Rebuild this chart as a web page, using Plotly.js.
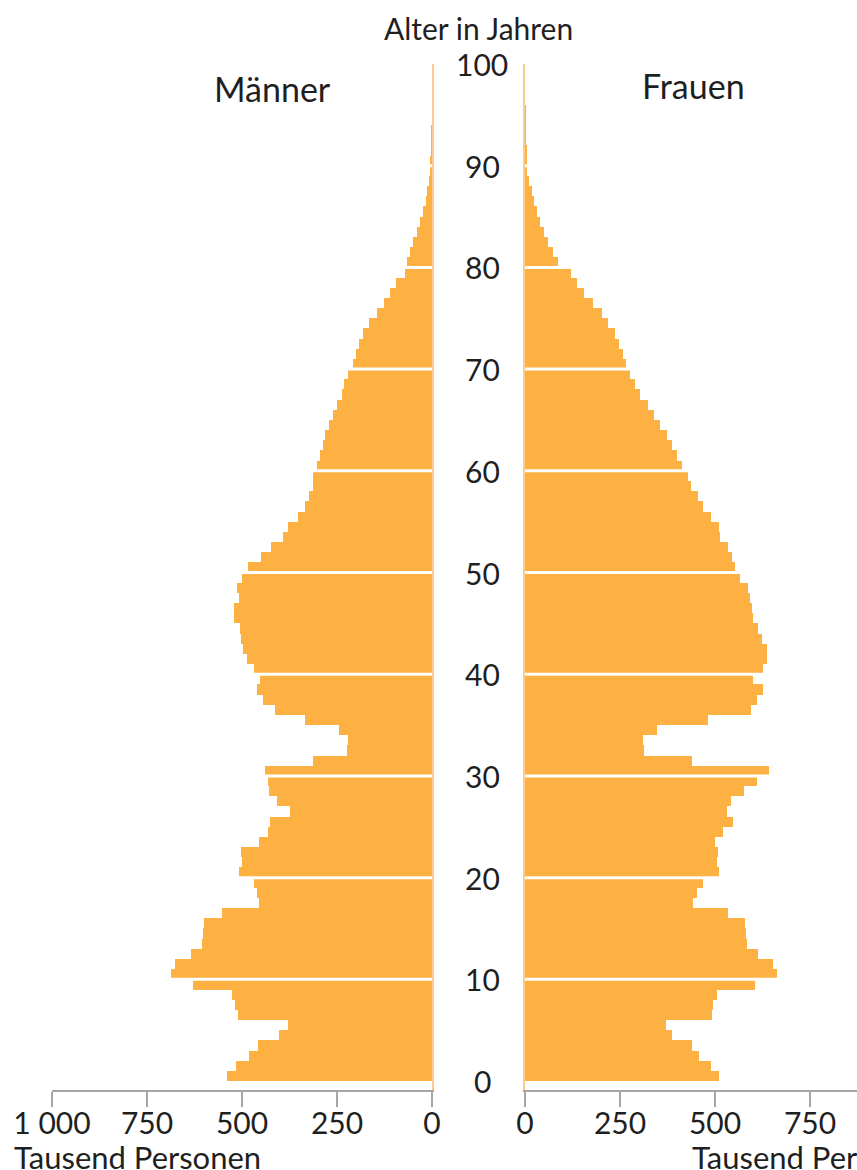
<!DOCTYPE html>
<html>
<head>
<meta charset="utf-8">
<script src="https://cdn.plot.ly/plotly-3.0.1.min.js"></script>
<style>
  html, body { margin: 0; padding: 0; background: #ffffff; }
  #chart { width: 857px; height: 1170px; }
</style>
</head>
<body>
<div id="chart"></div>
<script>
// ---- data (thousand persons per single year of age) ----
const ages = Array.from({length: 100}, (_, i) => i);

const maenner = [
  540, 516, 481, 457, 402, 380, 510, 518, 527, 630,
  688, 676, 635, 606, 602, 599, 553, 454, 461, 468,
  507, 501, 503, 455, 431, 426, 375, 409, 428, 431,
  439, 312, 224, 220, 244, 334, 413, 444, 461, 452,
  468, 488, 498, 503, 505, 521, 521, 507, 514, 501,
  483, 451, 425, 393, 378, 352, 334, 325, 314, 312,
  302, 295, 288, 282, 270, 261, 251, 238, 232, 222,
  207, 201, 192, 181, 165, 146, 126, 111, 95, 70,
  67, 58, 49, 39, 32, 25, 16, 12, 9, 5,
  4, 3, 2, 2, 1, 1, 0.5, 0.3, 0.2, 0.1
];

const frauen = [
  511, 489, 459, 439, 386, 370, 491, 496, 504, 605,
  662, 652, 614, 583, 582, 579, 535, 443, 452, 469,
  511, 504, 509, 500, 522, 548, 531, 541, 576, 611,
  642, 439, 313, 310, 347, 481, 595, 610, 626, 601,
  627, 638, 636, 623, 614, 601, 597, 592, 586, 566,
  553, 544, 535, 513, 511, 489, 469, 456, 436, 428,
  412, 399, 388, 373, 354, 340, 323, 303, 289, 275,
  266, 257, 248, 237, 219, 202, 178, 155, 138, 120,
  88, 73, 61, 50, 39, 31, 24, 18, 11, 6,
  5, 4, 3, 2.5, 2, 1.5, 1, 0.7, 0.5, 0.3
];

const xTickVals = [0, 250, 500, 750, 1000];
const xTickText = ['0', '250', '500', '750', '1 000'];
const yTickVals = [0, 10, 20, 30, 40, 50, 60, 70, 80, 90, 100];
const gridAges  = [10, 20, 30, 40, 50, 60, 70, 80, 90];

const labelMaenner = 'Männer';
const labelFrauen = 'Frauen';
const yTitle = 'Alter in Jahren';
const xTitle = 'Tausend Personen';

// ---- styling ----
const FONT = 'Lato, "Open Sans", "DejaVu Sans", sans-serif';
const TXT = '#1f1f1f';
const BAR = '#FEB143';
const AXIS_LINE = '#FDCB8C';

const barCommon = {
  type: 'bar', orientation: 'h', width: 1, offset: 0,
  marker: {color: BAR, line: {width: 0}},
  hoverinfo: 'x+y'
};

const traces = [
  Object.assign({}, barCommon, {x: maenner, y: ages, name: labelMaenner, xaxis: 'x', yaxis: 'y'}),
  Object.assign({}, barCommon, {x: frauen, y: ages, name: labelFrauen, xaxis: 'x2', yaxis: 'y2'})
];

const W = 857, H = 1170;
const xAxisCommon = {
  tickmode: 'array', tickvals: xTickVals, ticktext: xTickText,
  ticks: 'outside', ticklen: 15, tickwidth: 2, tickcolor: '#a6a6a6',
  ticklabelstandoff: -9,
  showline: true, linecolor: '#a6a6a6', linewidth: 2,
  showgrid: false, zeroline: false,
  tickfont: {family: FONT, size: 30, color: TXT},
  fixedrange: true
};
const yAxisCommon = {
  range: [-0.88, 100], showgrid: false, zeroline: false,
  showticklabels: false, ticks: '',
  showline: true, linecolor: AXIS_LINE, linewidth: 2,
  fixedrange: true
};

const annotations = [];
yTickVals.forEach(v => annotations.push({
  text: String(v), xref: 'paper', yref: 'y', x: 482 / W, y: v,
  xanchor: 'center', yanchor: 'middle', showarrow: false,
  font: {family: FONT, size: 30, color: TXT}
}));
annotations.push({text: yTitle, xref: 'paper', yref: 'paper', x: 479 / W, y: 1 + (64 - 28) / 1026,
  xanchor: 'center', yanchor: 'middle', showarrow: false, font: {family: FONT, size: 30, color: TXT}});
annotations.push({text: labelMaenner, xref: 'paper', yref: 'paper', x: 272 / W, y: 1 - (88 - 64) / 1026,
  xanchor: 'center', yanchor: 'middle', showarrow: false, font: {family: FONT, size: 34, color: TXT}});
annotations.push({text: labelFrauen, xref: 'paper', yref: 'paper', x: 693 / W, y: 1 - (86 - 64) / 1026,
  xanchor: 'center', yanchor: 'middle', showarrow: false, font: {family: FONT, size: 34, color: TXT}});
annotations.push({text: xTitle, xref: 'paper', yref: 'paper', x: 12 / W, y: -(1157 - 1090) / 1026,
  xanchor: 'left', yanchor: 'middle', showarrow: false, font: {family: FONT, size: 31, color: TXT}});
annotations.push({text: xTitle, xref: 'paper', yref: 'paper', x: 690 / W, y: -(1157 - 1090) / 1026,
  xanchor: 'left', yanchor: 'middle', showarrow: false, font: {family: FONT, size: 31, color: TXT}});

const shapes = [];
gridAges.forEach(a => {
  shapes.push({type: 'line', xref: 'x domain', yref: 'y', x0: 0, x1: 1, y0: a, y1: a,
    line: {color: '#ffffff', width: 3}, layer: 'above'});
  shapes.push({type: 'line', xref: 'x2 domain', yref: 'y2', x0: 0, x1: 1, y0: a, y1: a,
    line: {color: '#ffffff', width: 3}, layer: 'above'});
});

const layout = {
  width: W, height: H,
  margin: {l: 0, r: 0, t: 64, b: 80, pad: 0},
  paper_bgcolor: '#ffffff', plot_bgcolor: '#ffffff',
  showlegend: false, bargap: 0,
  font: {family: FONT, color: TXT},
  xaxis: Object.assign({}, xAxisCommon, {domain: [52 / W, 432 / W], range: [1000, 0], anchor: 'y'}),
  xaxis2: Object.assign({}, xAxisCommon, {domain: [525 / W, 1], range: [0, (W - 525) / 0.38], anchor: 'y2'}),
  yaxis: Object.assign({}, yAxisCommon, {anchor: 'x', side: 'right'}),
  yaxis2: Object.assign({}, yAxisCommon, {anchor: 'x2', side: 'left'}),
  annotations: annotations,
  shapes: shapes
};

Plotly.newPlot('chart', traces, layout, {displayModeBar: false, staticPlot: true});
</script>
</body>
</html>
